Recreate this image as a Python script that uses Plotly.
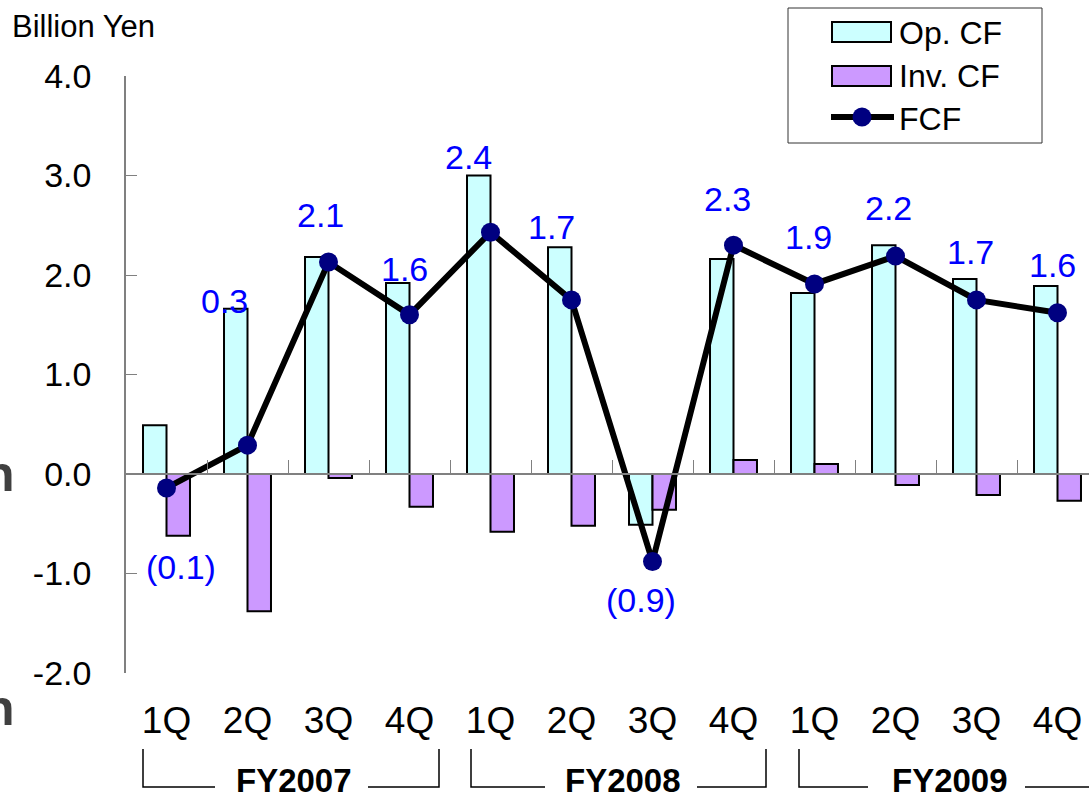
import plotly.graph_objects as go

quarters = ["1Q", "2Q", "3Q", "4Q", "1Q", "2Q", "3Q", "4Q", "1Q", "2Q", "3Q", "4Q"]
fiscal_years = ["FY2007", "FY2008", "FY2009"]
op_cf = [0.49, 1.66, 2.18, 1.92, 3.00, 2.28, -0.51, 2.16, 1.82, 2.30, 1.96, 1.89]
inv_cf = [-0.62, -1.38, -0.04, -0.33, -0.58, -0.52, -0.36, 0.14, 0.10, -0.11, -0.21, -0.27]
fcf = [-0.14, 0.29, 2.13, 1.60, 2.43, 1.75, -0.88, 2.30, 1.91, 2.19, 1.75, 1.62]
fcf_labels = ["(0.1)", "0.3", "2.1", "1.6", "2.4", "1.7", "(0.9)", "2.3", "1.9", "2.2", "1.7", "1.6"]
series_names = ["Op. CF", "Inv. CF", "FCF"]
y_ticks = [-2.0, -1.0, 0.0, 1.0, 2.0, 3.0, 4.0]

# label offsets in pixels (style)
label_shift = [(14, -79), (-23, 144), (-8, 47), (-5, 46), (-22, 75), (-20, 73),
               (-12, -38), (-6, 46), (-6, 47), (-7, 48), (-6, 48), (-5, 48)]
# bracket layout in pixels (style): left tick, left line end, text centre, right line start, right tick
bracket_px = [(143, 215, 294, 368, 439), (471, 545, 623, 697, 766), (799, 868, 950, 1025, 1100)]

FONT = "Liberation Sans, Arial, sans-serif"
W, H = 1089, 799
ML, MR, MT, MB = 126, 0, 76, 126
PW, PH = W - ML - MR, H - MT - MB
OP_COL, INV_COL, FCF_COL = "#CCFFFF", "#CC99FF", "#000080"


def px(x):
    return (x - ML) / PW


def py(y):
    return (H - MB - y) / PH


xs = list(range(len(quarters)))
BW = 0.29

fig = go.Figure()
fig.add_trace(go.Bar(x=xs, y=op_cf, name=series_names[0], width=BW, offset=-BW,
                     marker=dict(color=OP_COL, line=dict(color="black", width=2))))
fig.add_trace(go.Bar(x=xs, y=inv_cf, name=series_names[1], width=BW, offset=0,
                     marker=dict(color=INV_COL, line=dict(color="black", width=2))))
fig.add_trace(go.Scatter(x=xs, y=fcf, name=series_names[2], mode="lines+markers",
                         line=dict(color="black", width=6),
                         marker=dict(color=FCF_COL, size=19)))
# invisible trace to carry the category axis drawn at y = 0
fig.add_trace(go.Scatter(x=[xs[0]], y=[0], xaxis="x2", mode="markers",
                         marker=dict(opacity=0), showlegend=False, hoverinfo="skip"))

for i, (lab, (dx, dy)) in enumerate(zip(fcf_labels, label_shift)):
    fig.add_annotation(x=xs[i], y=fcf[i], text=lab, showarrow=False,
                       xshift=dx, yshift=dy, xanchor="center", yanchor="middle",
                       font=dict(family=FONT, size=34, color="#0000FF"))

# fiscal year group labels with brackets
yt, yb = py(749), py(787)
for fy, (l0, l1, tc, r0, r1) in zip(fiscal_years, bracket_px):
    fig.add_annotation(x=px(tc), y=py(780), xref="paper", yref="paper", text=f"<b>{fy}</b>",
                       showarrow=False, xanchor="center", yanchor="middle",
                       font=dict(family=FONT, size=33, color="black"))
    fig.add_shape(type="path", xref="paper", yref="paper",
                  path=f"M {px(l0)},{yt} L {px(l0)},{yb} L {px(l1)},{yb}",
                  line=dict(color="black", width=1.5))
    fig.add_shape(type="path", xref="paper", yref="paper",
                  path=f"M {px(r0)},{yb} L {px(r1)},{yb} L {px(r1)},{yt}",
                  line=dict(color="black", width=1.5))

fig.add_annotation(x=px(10), y=py(26), xref="paper", yref="paper", text="Billion Yen",
                   showarrow=False, xanchor="left", yanchor="middle",
                   font=dict(family=FONT, size=31, color="black"))
for yy in [474, 708]:
    fig.add_annotation(x=px(17), y=py(yy), xref="paper", yref="paper", text="<b>n</b>",
                       showarrow=False, xanchor="right", yanchor="middle",
                       font=dict(family=FONT, size=50, color="#404040"))

# manual legend (box, swatches, labels)
fig.add_shape(type="rect", xref="paper", yref="paper",
              x0=px(788), x1=px(1042), y0=py(143), y1=py(8),
              line=dict(color="#333333", width=1), fillcolor="white", layer="above")
fig.add_shape(type="rect", xref="paper", yref="paper",
              x0=px(832), x1=px(891), y0=py(42), y1=py(22),
              line=dict(color="black", width=2), fillcolor=OP_COL, layer="above")
fig.add_shape(type="rect", xref="paper", yref="paper",
              x0=px(832), x1=px(891), y0=py(86), y1=py(66),
              line=dict(color="black", width=2), fillcolor=INV_COL, layer="above")
fig.add_shape(type="line", xref="paper", yref="paper",
              x0=px(831), x1=px(894), y0=py(117), y1=py(117),
              line=dict(color="black", width=6), layer="above")
fig.add_shape(type="circle", xref="paper", yref="paper",
              x0=px(852.5), x1=px(871.5), y0=py(126.5), y1=py(107.5),
              line=dict(color=FCF_COL, width=0), fillcolor=FCF_COL, layer="above")
for name, yc in zip(series_names, [33, 76, 119]):
    fig.add_annotation(x=px(897), y=py(yc), xref="paper", yref="paper", text=name,
                       showarrow=False, xanchor="left", yanchor="middle",
                       font=dict(family=FONT, size=32, color="black"))

xrange = [-0.5, -0.5 + PW / 81.0]
fig.update_layout(
    width=W, height=H,
    margin=dict(l=ML, r=MR, t=MT, b=MB, autoexpand=False),
    paper_bgcolor="white", plot_bgcolor="white",
    showlegend=False,
    barmode="overlay",
    xaxis=dict(range=xrange, tickmode="array", tickvals=xs, ticktext=quarters,
               showline=False, ticks="", showgrid=False, zeroline=False,
               tickfont=dict(family=FONT, size=37, color="black"),
               ticklabelstandoff=22, ticklabeloverflow="allow", automargin=False),
    xaxis2=dict(range=xrange, overlaying="x", anchor="free", position=1/3,
                tickmode="array", tickvals=[x + 0.5 for x in xs],
                showticklabels=False, ticks="inside", ticklen=13, tickcolor="#808080",
                showline=True, linecolor="#808080", linewidth=1.5,
                showgrid=False, zeroline=False),
    yaxis=dict(range=[-2, 4], tickmode="array", tickvals=y_ticks,
               ticktext=[f"{v:.1f}" for v in y_ticks],
               showline=True, linecolor="#808080", linewidth=1.5,
               ticks="inside", ticklen=11, tickcolor="#808080",
               showgrid=False, zeroline=False, automargin=False,
               tickfont=dict(family=FONT, size=34, color="black"),
               ticklabelstandoff=26),
)

fig.write_html("out.html", config={"displayModeBar": False},
               post_script="document.body.style.margin='0';")
